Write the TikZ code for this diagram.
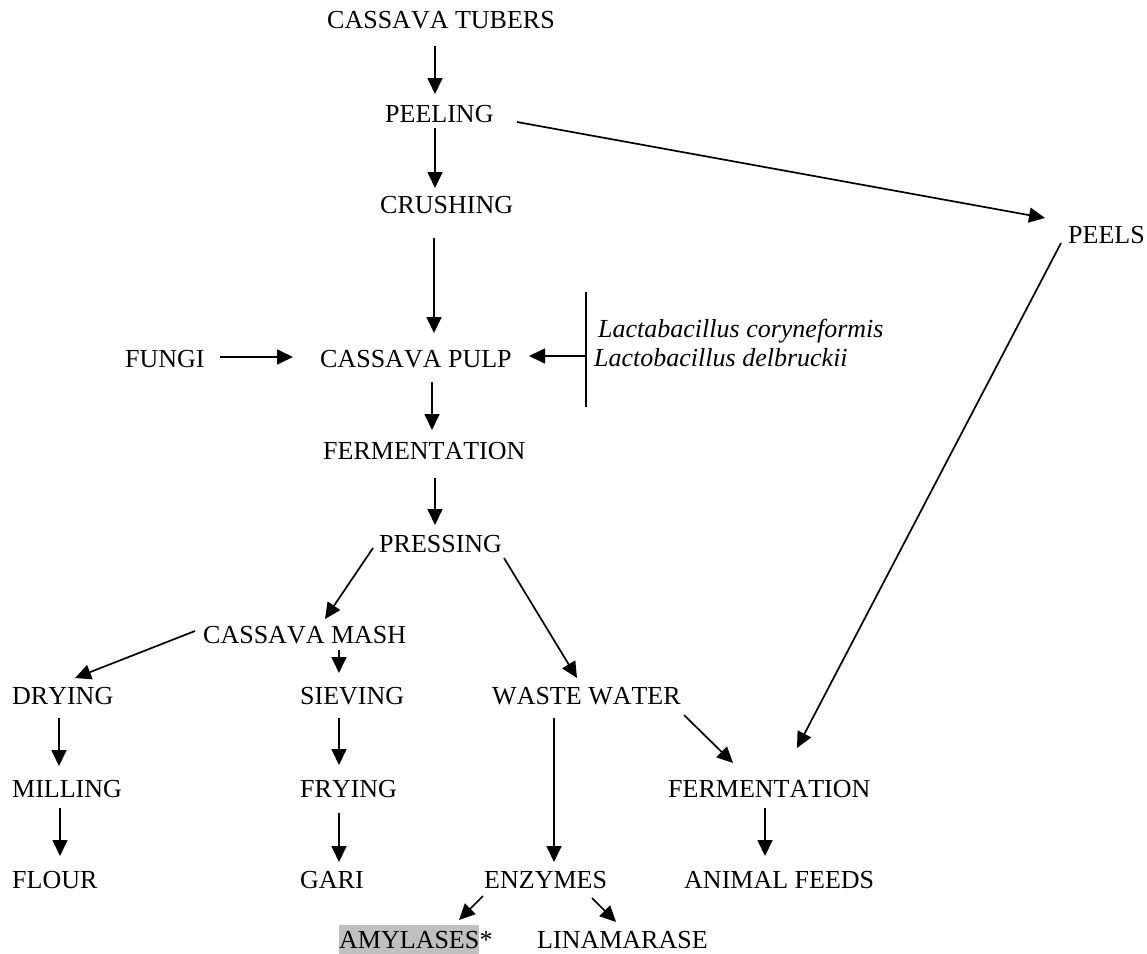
\documentclass[tikz,border=0pt]{standalone}
\usepackage{fontspec}
\setmainfont{Liberation Serif}[Kerning=Off]
\usetikzlibrary{arrows.meta}
\definecolor{hl}{HTML}{C0C0C0}
\begin{document}
\begin{tikzpicture}[x=1pt,y=-1pt,
  lbl/.style={anchor=base west, inner sep=0pt, font=\fontsize{26}{31}\selectfont},
  ital/.style={lbl, font=\fontsize{26}{31}\selectfont\itshape},
  arr/.style={line width=1.7pt, -{Triangle[length=16pt,width=15pt]}},
  bar/.style={line width=1.7pt}]
\useasboundingbox (0,0) rectangle (1147,953);
% nodes
\node[lbl] (tubers) at (327,28) {CASSAVA TUBERS};
\node[lbl] (peeling) at (385,122) {PEELING};
\node[lbl] (crushing) at (380,213) {CRUSHING};
\node[lbl] (peels) at (1068,243) {PEELS};
\node[lbl] (fungi) at (125,367) {FUNGI};
\node[lbl] (pulp) at (320,367) {CASSAVA PULP};
\node[ital] (lacA) at (598,337) {Lactabacillus coryneformis};
\node[ital] (lacB) at (594,366) {Lactobacillus delbruckii};
\node[lbl] (ferm1) at (323,459) {FERMENTATION};
\node[lbl] (pressing) at (379,552) {PRESSING};
\node[lbl] (mash) at (203,643) {CASSAVA MASH};
\node[lbl] (drying) at (12,704) {DRYING};
\node[lbl] (sieving) at (300,704) {SIEVING};
\node[lbl] (waste) at (492,704) {WASTE WATER};
\node[lbl] (milling) at (12,797) {MILLING};
\node[lbl] (frying) at (300,797) {FRYING};
\node[lbl] (ferm2) at (668,797) {FERMENTATION};
\node[lbl] (flour) at (12,888) {FLOUR};
\node[lbl] (gari) at (300,888) {GARI};
\node[lbl] (enzymes) at (484,888) {ENZYMES};
\node[lbl] (animal) at (684,888) {ANIMAL FEEDS};
\node[lbl, fill=hl, text height=23pt, text depth=6pt] (amylases) at (339,948) {AMYLASES};
\node[lbl] (star) at (amylases.base east) {*};
\node[lbl] (linamarase) at (537,948) {LINAMARASE};
% bracket
\draw[bar] ([shift={(-12,-45)}]lacA.base west) -- ([shift={(-8,41)}]lacB.base west);
% connectors
\draw[arr] ([shift={(108,18)}]tubers.base west) -- ([shift={(50,-28)}]peeling.base west);
\draw[arr] ([shift={(50,6)}]peeling.base west) -- ([shift={(55,-25)}]crushing.base west);
\draw[arr] ([shift={(132,0)}]peeling.base west) -- ([shift={(-23,-25)}]peels.base west);
\draw[arr] ([shift={(54,25)}]crushing.base west) -- ([shift={(114,-34)}]pulp.base west);
\draw[arr] ([shift={(95,-10)}]fungi.base west) -- ([shift={(-27,-10)}]pulp.base west);
\draw[arr] ([shift={(-8,-10)}]lacB.base west) -- ([shift={(209,-11)}]pulp.base west);
\draw[arr] ([shift={(112,15)}]pulp.base west) -- ([shift={(109,-29)}]ferm1.base west);
\draw[arr] ([shift={(112,19)}]ferm1.base west) -- ([shift={(56,-27)}]pressing.base west);
\draw[arr] ([shift={(-6,-4)}]pressing.base west) -- ([shift={(122,-24)}]mash.base west);
\draw[arr] ([shift={(125,6)}]pressing.base west) -- ([shift={(85,-26)}]waste.base west);
\draw[arr] ([shift={(-8,-12)}]mash.base west) -- ([shift={(63,-26)}]drying.base west);
\draw[arr] ([shift={(136,7)}]mash.base west) -- ([shift={(39,-31)}]sieving.base west);
\draw[arr] ([shift={(47,14)}]drying.base west) -- ([shift={(47,-31)}]milling.base west);
\draw[arr] ([shift={(48,11)}]milling.base west) -- ([shift={(48,-32)}]flour.base west);
\draw[arr] ([shift={(39,14)}]sieving.base west) -- ([shift={(39,-32)}]frying.base west);
\draw[arr] ([shift={(39,16)}]frying.base west) -- ([shift={(39,-26)}]gari.base west);
\draw[arr] ([shift={(62,14)}]waste.base west) -- ([shift={(70,-26)}]enzymes.base west);
\draw[arr] ([shift={(192,11)}]waste.base west) -- ([shift={(65,-34)}]ferm2.base west);
\draw[arr] ([shift={(-7,0)}]peels.base west) -- ([shift={(129,-49)}]ferm2.base west);
\draw[arr] ([shift={(97,11)}]ferm2.base west) -- ([shift={(81,-32)}]animal.base west);
\draw[arr] ([shift={(-1,8)}]enzymes.base west) -- ([shift={(120,-28)}]amylases.base west);
\draw[arr] ([shift={(108,10)}]enzymes.base west) -- ([shift={(79,-26)}]linamarase.base west);
\end{tikzpicture}
\end{document}
